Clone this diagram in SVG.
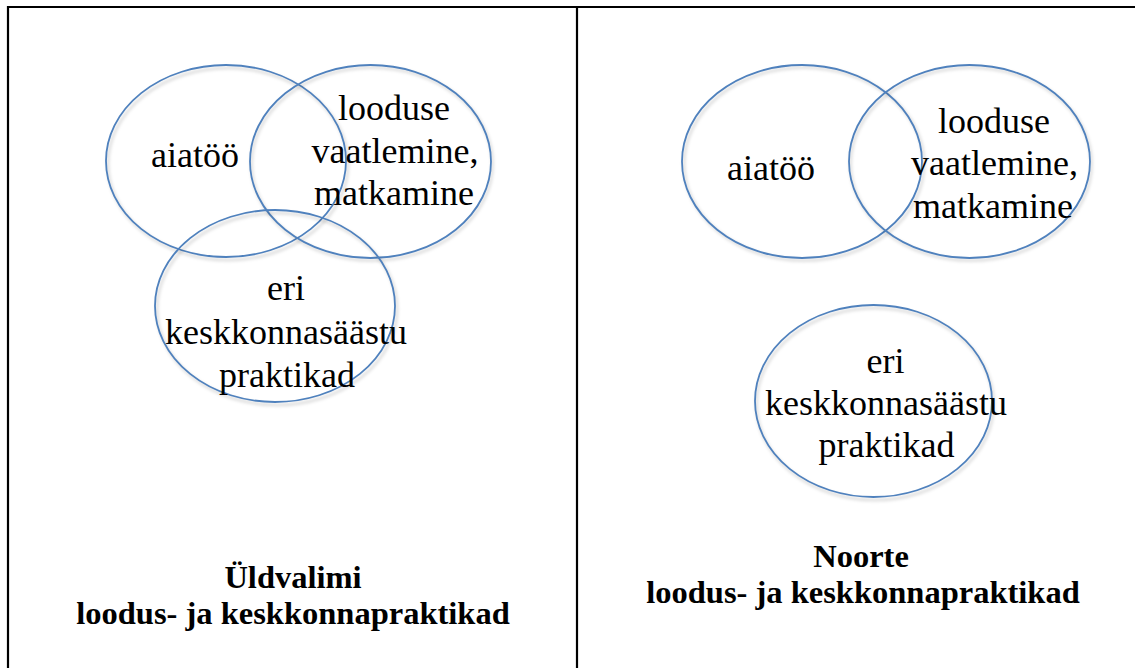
<svg xmlns="http://www.w3.org/2000/svg" width="1135" height="668" viewBox="0 0 1135 668">
<defs>
<style>
.frame{stroke:#000;stroke-width:2.2;fill:none}
.ell{fill:none;stroke:#4F81BD;stroke-width:1.8}
.sh{fill:none;stroke:#000;stroke-opacity:0.12;stroke-width:3;filter:url(#blur)}
.lbl{font-size:36px;fill:#000;text-anchor:middle}
.ttl{font-size:32.5px;font-weight:bold;fill:#000;text-anchor:middle}
</style>
<filter id="blur" x="-10%" y="-10%" width="120%" height="120%"><feGaussianBlur stdDeviation="1.5"/></filter>
</defs>
<rect width="1135" height="668" fill="#fff"/>
<g id="frame">
<path class="frame" d="M8 668 V7 H1135 M577 7 V668"/>
</g>
<g id="left" font-family="Liberation Serif, Times New Roman, serif">
<g id="l-aiatoo">
<ellipse class="sh" cx="228" cy="164" rx="120" ry="96"/>
<ellipse class="ell" cx="226" cy="161" rx="120" ry="96"/>
<text class="lbl" x="195" y="167">aiatöö</text>
</g>
<g id="l-looduse">
<ellipse class="sh" cx="372" cy="164" rx="120.5" ry="96.5"/>
<ellipse class="ell" cx="370.5" cy="161.5" rx="120.5" ry="96.5"/>
<text class="lbl" x="394" y="120">looduse</text>
<text class="lbl" x="395" y="163">vaatlemine,</text>
<text class="lbl" x="394" y="205">matkamine</text>
</g>
<g id="l-eri">
<ellipse class="sh" cx="277" cy="309" rx="120" ry="96"/>
<ellipse class="ell" cx="275" cy="306" rx="120" ry="96"/>
<text class="lbl" x="286" y="300">eri</text>
<text class="lbl" x="286" y="344">keskkonnasäästu</text>
<text class="lbl" x="287" y="387">praktikad</text>
</g>
<g id="l-title">
<text class="ttl" x="293" y="588">Üldvalimi</text>
<text class="ttl" x="293" y="624">loodus- ja keskkonnapraktikad</text>
</g>
</g>
<g id="right" font-family="Liberation Serif, Times New Roman, serif">
<g id="r-aiatoo">
<ellipse class="sh" cx="804" cy="164" rx="120" ry="96.5"/>
<ellipse class="ell" cx="802" cy="161.5" rx="120" ry="96.5"/>
<text class="lbl" x="771" y="180">aiatöö</text>
</g>
<g id="r-looduse">
<ellipse class="sh" cx="971" cy="164" rx="120.5" ry="96.5"/>
<ellipse class="ell" cx="969.5" cy="161.5" rx="120.5" ry="96.5"/>
<text class="lbl" x="994" y="133">looduse</text>
<text class="lbl" x="994.5" y="175">vaatlemine,</text>
<text class="lbl" x="993" y="218">matkamine</text>
</g>
<g id="r-eri">
<ellipse class="sh" cx="875" cy="404" rx="118.5" ry="96"/>
<ellipse class="ell" cx="873.5" cy="401" rx="118.5" ry="96"/>
<text class="lbl" x="885.5" y="373">eri</text>
<text class="lbl" x="886" y="415">keskkonnasäästu</text>
<text class="lbl" x="886.5" y="457">praktikad</text>
</g>
<g id="r-title">
<text class="ttl" x="861" y="567">Noorte</text>
<text class="ttl" x="863" y="603">loodus- ja keskkonnapraktikad</text>
</g>
</g>
<g id="connectors"/>
</svg>
